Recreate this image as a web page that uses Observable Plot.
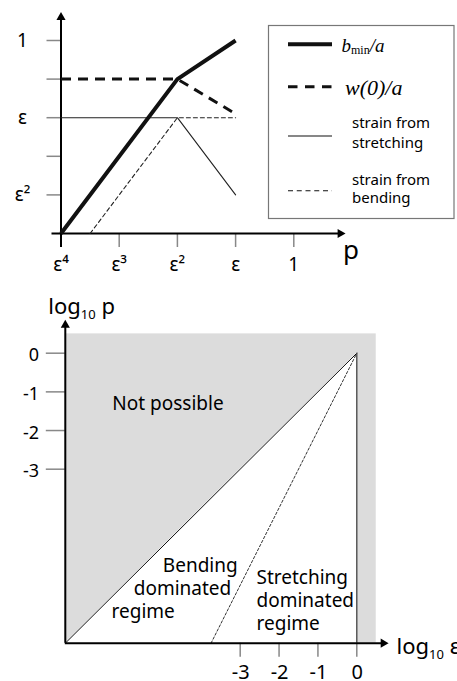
<!DOCTYPE html>
<html><head><meta charset="utf-8">
<script src="https://cdn.jsdelivr.net/npm/d3@7"></script>
<script src="https://cdn.jsdelivr.net/npm/@observablehq/plot@0.6"></script>
<style>
html,body{margin:0;padding:0;background:#fff;overflow:hidden;}
#wrap{position:relative;width:457px;height:681px;overflow:hidden;}
#wrap > svg{display:block}
#legend{position:absolute;left:0;top:0;pointer-events:none}
</style></head><body><div id="wrap"></div>
<script>
// ---------- TOP PANEL DATA (x: position of p = ε^k, 0 = ε⁴ ... 4 = 1; y: exponent scale) ----------
const topXTicks = [0, 1, 2, 3, 4];
const topXLabels = ["ε⁴", "ε³", "ε²", "ε", "1"];
const topYTicks = [0.5, 1, 1.5, 2, 2.5];
const topYLabels = ["ε²", "", "ε", "", "1"];
const bminX = [0, 2, 3],   bminY = [0, 2, 2.5];       // b_min/a
const w0X = [0, 2, 3],     w0Y = [2, 2, 1.55];        // w(0)/a
const stretchX = [0, 2, 3], stretchY = [1.5, 1.5, 0.5]; // strain from stretching
const bendX = [0.5, 2, 3], bendY = [0, 1.5, 1.5];     // strain from bending
const topXEnd = 4.888, topYEnd = 2.867;               // axis arrow tips
const legendText = ["strain from", "stretching", "strain from", "bending"];

// ---------- BOTTOM PANEL DATA (log10 ε, log10 p) ----------
const botXTicks = [-3, -2, -1, 0];
const botYTicks = [0, -1, -2, -3];
const logMin = -7.5, shadeMax = 0.5;
const botXEnd = 0.816, botYEnd = 0.864;
const edgeX = [-7.5, 0],  edgeY = [-7.5, 0];   // p = ε boundary
const splitX = [-3.75, 0], splitY = [-7.5, 0]; // p = ε² boundary
const axisTitles = ["log10 p", "log10 ε"];
const regionLabels = [
  {text: "Not possible", x: -6.29, y: -1.31},
  {text: "Bending",      x: -4.99, y: -5.49},
  {text: "dominated",    x: -5.74, y: -6.09},
  {text: "regime",       x: -6.31, y: -6.70},
  {text: "Stretching",   x: -2.58, y: -5.81},
  {text: "dominated",    x: -2.58, y: -6.41},
  {text: "regime",       x: -2.58, y: -7.01}
];

const zip = (xs, ys) => xs.map((x, i) => ({x, y: ys[i]}));
const font = "'Noto Sans', sans-serif";
const wrap = document.getElementById("wrap");

// ---------- TOP CHART ----------
const tXr = [60.5, 293.3], tYr = [233, 40];
const tpx = (tXr[1] - tXr[0]) / 4, tpy = (tYr[0] - tYr[1]) / 2.5;
const topChart = Plot.plot({
  width: 457, height: 285,
  x: {domain: [0, 4], range: tXr, axis: null},
  y: {domain: [0, 2.5], range: tYr, axis: null},
  style: {fontFamily: font, background: "white", overflow: "visible"},
  marks: [
    Plot.ruleX(topXTicks, {x: d => d, y1: 0, y2: -14 / tpy, stroke: "#888", strokeWidth: 1.5}),
    Plot.ruleY(topYTicks, {y: d => d, x1: 0, x2: -14 / tpx, stroke: "#888", strokeWidth: 1.5}),
    Plot.ruleY([0], {y: d => d, x1: -9 / tpx, x2: topXEnd - 5 / tpx, stroke: "black", strokeWidth: 2}),
    Plot.ruleX([0], {x: d => d, y1: -14 / tpy, y2: topYEnd - 5 / tpy, stroke: "black", strokeWidth: 2}),
    Plot.dot([{x: 0, y: topYEnd}], {x: "x", y: "y", symbol: "triangle", r: 3.4, fill: "black", stroke: "none", dy: 5.2}),
    Plot.dot([{x: topXEnd, y: 0}], {x: "x", y: "y", symbol: "triangle", r: 3.4, fill: "black", stroke: "none", rotate: 90, dx: -5.2}),
    Plot.line(zip(stretchX, stretchY), {x: "x", y: "y", stroke: "#222", strokeWidth: 1.1}),
    Plot.line(zip(bendX, bendY), {x: "x", y: "y", stroke: "#222", strokeWidth: 1.1, strokeDasharray: "4,3"}),
    Plot.line(zip(w0X, w0Y), {x: "x", y: "y", stroke: "#111", strokeWidth: 3, strokeDasharray: "10,7", strokeLinecap: "butt"}),
    Plot.line(zip(bminX, bminY), {x: "x", y: "y", stroke: "#111", strokeWidth: 4, strokeLinecap: "butt"}),
    Plot.text(topXTicks, {x: d => d, y: 0, text: (d, i) => topXLabels[i], dy: 31, fontSize: 19, fill: "black"}),
    Plot.text(topYTicks, {x: 0, y: d => d, text: (d, i) => topYLabels[i], dx: -38.5, fontSize: 19, fill: "black"}),
    Plot.text(["p"], {x: topXEnd, y: 0, text: d => d, dx: 5.5, dy: 16.7, fontSize: 26, fill: "black"})
  ]
});
wrap.appendChild(topChart);

// ---------- BOTTOM CHART ----------
const bXr = [64.8, 356.3], bYr = [357.7, 67.7];
const bpx = (bXr[1] - bXr[0]) / 7.5, bpy = (bYr[0] - bYr[1]) / 7.5;
const botChart = Plot.plot({
  width: 457, height: 396,
  x: {domain: [logMin, 0], range: bXr, axis: null},
  y: {domain: [logMin, 0], range: bYr, axis: null},
  style: {fontFamily: font, background: "white", overflow: "visible"},
  marks: [
    Plot.rect([0], {x1: logMin, x2: shadeMax, y1: logMin, y2: shadeMax, fill: "#dcdcdc"}),
    Plot.areaY(zip(edgeX, edgeY), {x: "x", y1: logMin, y2: "y", fill: "white"}),
    Plot.line(zip(edgeX, edgeY), {x: "x", y: "y", stroke: "#111", strokeWidth: 1}),
    Plot.line(zip(splitX, splitY), {x: "x", y: "y", stroke: "#333", strokeWidth: 1, strokeDasharray: "2.5,2"}),
    Plot.ruleX([0], {x: d => d, y1: logMin, y2: 0, stroke: "#444", strokeWidth: 1.3}),
    Plot.ruleX(botXTicks, {x: d => d, y1: logMin, y2: logMin - 14 / bpy, stroke: "#888", strokeWidth: 1.5}),
    Plot.ruleY(botYTicks, {y: d => d, x1: logMin, x2: logMin - 19 / bpx, stroke: "#888", strokeWidth: 1.5}),
    Plot.ruleY([logMin], {y: d => d, x1: logMin, x2: botXEnd - 5 / bpx, stroke: "black", strokeWidth: 2}),
    Plot.ruleX([logMin], {x: d => d, y1: logMin, y2: botYEnd - 5 / bpy, stroke: "black", strokeWidth: 2}),
    Plot.dot([{x: logMin, y: botYEnd}], {x: "x", y: "y", symbol: "triangle", r: 3.4, fill: "black", stroke: "none", dy: 5.2}),
    Plot.dot([{x: botXEnd, y: logMin}], {x: "x", y: "y", symbol: "triangle", r: 3.4, fill: "black", stroke: "none", rotate: 90, dx: -5.2}),
    Plot.text(botXTicks, {x: d => d, y: logMin, text: d => String(d), dy: 29, dx: 0.5, fontSize: 20, fill: "black"}),
    Plot.text(botYTicks, {x: logMin, y: d => d, text: d => String(d), dx: -26.3, dy: 2.5, textAnchor: "end", fontSize: 18, fill: "black"}),
    Plot.text([axisTitles[0]], {x: logMin, y: botYEnd, text: d => d, dx: -17, dy: -12.7, textAnchor: "start", fontSize: 22, fill: "black"}),
    Plot.text([axisTitles[1]], {x: botXEnd, y: logMin, text: d => d, dx: 8, dy: 3.9, textAnchor: "start", fontSize: 22, fill: "black"}),
    Plot.text(regionLabels, {x: "x", y: "y", text: "text", textAnchor: "start", fontSize: 19, fill: "black"})
  ]
});
wrap.appendChild(botChart);

// turn "log10" into log with subscript 10 (real text, tspans)
d3.select(botChart).selectAll("text").filter(function() {
  return axisTitles.includes(this.textContent);
}).each(function() {
  const parts = this.textContent.split(" ");
  const t = d3.select(this);
  t.text(null);
  t.append("tspan").text("log");
  t.append("tspan").attr("font-size", 13).attr("dy", 5).text("10");
  t.append("tspan").attr("dy", -5).text("\u00a0" + parts[1]);
});

// ---------- LEGEND (overlay on top panel) ----------
const lg = d3.select(wrap).append("svg").attr("id", "legend")
  .attr("width", 457).attr("height", 285).style("font-family", font);
lg.append("rect").attr("x", 268.5).attr("y", 25.5).attr("width", 185.5).attr("height", 193)
  .attr("fill", "white").attr("stroke", "#777").attr("stroke-width", 1.2);
const sw = [
  {y: 44.3, w: 4, dash: null},
  {y: 86.7, w: 3, dash: "9.5,7.5"},
  {y: 136, w: 1.1, dash: null},
  {y: 190.7, w: 1.1, dash: "5,3.75"}
];
sw.forEach(s => lg.append("line").attr("x1", 288).attr("x2", 332).attr("y1", s.y).attr("y2", s.y)
  .attr("stroke", "#111").attr("stroke-width", s.w).attr("stroke-dasharray", s.dash));
const t1 = lg.append("text").attr("x", 341.5).attr("y", 52.3)
  .attr("font-family", "'Liberation Serif', 'Times New Roman', serif").attr("font-size", 19);
t1.append("tspan").attr("font-style", "italic").text("b");
t1.append("tspan").attr("font-size", 12).attr("dy", 2).text("min");
t1.append("tspan").attr("font-style", "italic").attr("dy", -2).text("/a");
lg.append("text").attr("x", 345).attr("y", 95)
  .attr("font-family", "'Liberation Serif', 'Times New Roman', serif").attr("font-size", 22)
  .attr("font-style", "italic").text("w(0)/a");
const ly = [128.3, 148.3, 185, 203];
legendText.forEach((t, i) => lg.append("text").attr("x", 352).attr("y", ly[i])
  .attr("font-size", 15).attr("fill", "black").text(t));
</script></body></html>
